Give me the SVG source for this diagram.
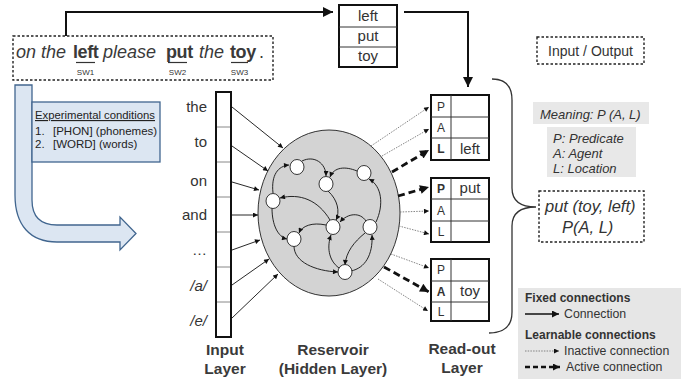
<svg xmlns="http://www.w3.org/2000/svg" width="681" height="381" viewBox="0 0 681 381">
<defs>
<style>
text{font-family:"Liberation Sans",Arial,sans-serif;fill:#333;}
.it{font-style:italic;}
.bd{font-weight:bold;}
.sent{font-size:18px;fill:#3a3a3a;}
.sb{font-weight:bold;letter-spacing:-0.4px;}
.dash{fill:none;stroke:#222;stroke-width:1.4;stroke-dasharray:2.5 2;}
.thin{fill:none;stroke:#111;stroke-width:0.9;}
.edge{fill:none;stroke:#111;stroke-width:0.9;}
.inact{fill:none;stroke:#777;stroke-width:0.9;stroke-dasharray:1.5 1.2;}
.act{fill:none;stroke:#111;stroke-width:2.8;stroke-dasharray:7 4;}
.fixed{fill:none;stroke:#111;stroke-width:2;}
.tbl{fill:#fff;stroke:#111;stroke-width:2;}
.grid{stroke:#333;stroke-width:1;}
.unit{fill:#fff;stroke:#222;stroke-width:0.9;}
.lbl{font-size:12px;text-anchor:middle;}
.val{font-size:15px;text-anchor:middle;}
.word{font-size:15px;text-anchor:end;}
.cap{font-size:15.5px;font-weight:bold;text-anchor:middle;fill:#3a3a3a;}
.cond{font-size:11.5px;fill:#222;}
</style>
<marker id="sm" viewBox="0 0 10 10" refX="10" refY="5" markerWidth="6" markerHeight="5" orient="auto" markerUnits="userSpaceOnUse"><path d="M0,0 L10,5 L0,10 z" fill="#111"/></marker>
<marker id="big" viewBox="0 0 10 10" refX="10" refY="5" markerWidth="11" markerHeight="10" orient="auto" markerUnits="userSpaceOnUse"><path d="M0,0 L10,5 L0,10 z" fill="#111"/></marker>
<marker id="actm" viewBox="0 0 10 10" refX="10" refY="5" markerWidth="10" markerHeight="9" orient="auto" markerUnits="userSpaceOnUse"><path d="M0,0 L10,5 L0,10 z" fill="#111"/></marker>
<marker id="leg" viewBox="0 0 10 10" refX="10" refY="5" markerWidth="8" markerHeight="7" orient="auto" markerUnits="userSpaceOnUse"><path d="M0,0 L10,5 L0,10 z" fill="#111"/></marker>
</defs>

<!-- sentence -->
<g id="sentence">
<rect x="13" y="36" width="260" height="44" class="dash"/>
<text x="16" y="58" class="sent it">on the</text>
<text x="73" y="58" class="sent sb">left</text>
<text x="103" y="58" class="sent it">please</text>
<text x="166" y="58" class="sent sb">put</text>
<text x="199" y="58" class="sent it">the</text>
<text x="230" y="58" class="sent sb">toy</text>
<text x="259" y="58" class="sent">.</text>
<line x1="76" y1="62.5" x2="95" y2="62.5" stroke="#333" stroke-width="1.2"/>
<line x1="168" y1="62.5" x2="187" y2="62.5" stroke="#333" stroke-width="1.2"/>
<line x1="231" y1="62.5" x2="248" y2="62.5" stroke="#333" stroke-width="1.2"/>
<text x="85.5" y="75" font-size="8" text-anchor="middle">SW1</text>
<text x="177.5" y="75" font-size="8" text-anchor="middle">SW2</text>
<text x="239.5" y="75" font-size="8" text-anchor="middle">SW3</text>
</g>

<!-- experimental conditions -->
<g id="conditions-arrow">
<path d="M15,85 L32,85 L32,200 Q32,225 57,225 L120,225 L120,217 L136,233.5 L120,250 L120,242 L57,242 C30,242 15,225 15,195 Z" fill="#dce6f2" stroke="#41668f" stroke-width="1.3"/>
</g>
<g id="conditions">
<rect x="32" y="102" width="128" height="60" fill="#dce6f2" stroke="#41668f" stroke-width="1.3"/>
<text x="35" y="119" class="cond" text-decoration="underline" textLength="120" lengthAdjust="spacingAndGlyphs">Experimental conditions</text>
<text x="35" y="135" class="cond">1.</text>
<text x="53" y="135" class="cond">[PHON] (phonemes)</text>
<text x="35" y="148" class="cond">2.</text>
<text x="53" y="148" class="cond">[WORD] (words)</text>
</g>

<!-- top word list -->
<g id="wordlist">
<rect x="339" y="5" width="58" height="62" class="tbl"/>
<line x1="339" y1="27" x2="397" y2="27" class="grid"/>
<line x1="339" y1="47" x2="397" y2="47" class="grid"/>
<text x="368" y="21" class="val">left</text>
<text x="368" y="41" class="val">put</text>
<text x="368" y="61" class="val">toy</text>
</g>

<!-- input layer -->
<g id="input-layer">
<rect x="216" y="92" width="15" height="245" fill="#fff" stroke="#111" stroke-width="2"/>
<g stroke="#888" stroke-width="1">
<line x1="217" y1="127" x2="230" y2="127"/>
<line x1="217" y1="162" x2="230" y2="162"/>
<line x1="217" y1="197" x2="230" y2="197"/>
<line x1="217" y1="232" x2="230" y2="232"/>
<line x1="217" y1="267" x2="230" y2="267"/>
<line x1="217" y1="302" x2="230" y2="302"/>
</g>
<text x="207" y="112" class="word">the</text>
<text x="207" y="147" class="word">to</text>
<text x="207" y="186" class="word">on</text>
<text x="207" y="220" class="word">and</text>
<text x="207" y="255" class="word">…</text>
<text x="207" y="291" class="word it">/a/</text>
<text x="207" y="326" class="word it">/e/</text>
<text x="225" y="355" class="cap">Input</text>
<text x="225" y="374" class="cap">Layer</text>
</g>

<!-- reservoir -->
<g id="reservoir">
<ellipse cx="329" cy="213" rx="71" ry="83" fill="#d3d3d3" stroke="#333" stroke-width="1"/>
<text x="333" y="355" class="cap">Reservoir</text>
<text x="333" y="374" class="cap">(Hidden Layer)</text>
</g>

<!-- read-out tables -->
<g id="readout-1">
<rect x="431" y="95" width="58" height="65" class="tbl"/>
<line x1="451" y1="95" x2="451" y2="160" class="grid"/>
<line x1="431" y1="117" x2="489" y2="117" class="grid"/>
<line x1="431" y1="138" x2="489" y2="138" class="grid"/>
<text x="441" y="111" class="lbl">P</text>
<text x="441" y="132" class="lbl">A</text>
<text x="441" y="153" class="lbl bd">L</text>
<text x="470" y="154" class="val">left</text>
</g>
<g id="readout-2">
<rect x="431" y="178" width="58" height="64" class="tbl"/>
<line x1="451" y1="178" x2="451" y2="242" class="grid"/>
<line x1="431" y1="199" x2="489" y2="199" class="grid"/>
<line x1="431" y1="221" x2="489" y2="221" class="grid"/>
<text x="441" y="193" class="lbl bd">P</text>
<text x="441" y="215" class="lbl">A</text>
<text x="441" y="236" class="lbl">L</text>
<text x="470" y="193" class="val">put</text>
</g>
<g id="readout-3">
<rect x="431" y="259" width="58" height="62" class="tbl"/>
<line x1="451" y1="259" x2="451" y2="321" class="grid"/>
<line x1="431" y1="281" x2="489" y2="281" class="grid"/>
<line x1="431" y1="302" x2="489" y2="302" class="grid"/>
<text x="441" y="274" class="lbl">P</text>
<text x="441" y="296" class="lbl bd">A</text>
<text x="441" y="316" class="lbl">L</text>
<text x="470" y="296" class="val">toy</text>
<text x="462" y="354" class="cap">Read-out</text>
<text x="462" y="373" class="cap">Layer</text>
</g>

<!-- right side -->
<g id="brace">
<path d="M492,79 Q512,79 512,100 L512,188 Q512,207 536,207 Q512,207 512,226 L512,312 Q512,333 489,333" fill="none" stroke="#333" stroke-width="1.3"/>
</g>
<g id="io-label">
<rect x="537" y="37" width="107" height="27" class="dash"/>
<text x="590.5" y="56" font-size="14" text-anchor="middle">Input / Output</text>
</g>
<g id="meaning">
<rect x="533" y="102" width="116" height="22" fill="#e8e8e8"/>
<text x="540" y="119" font-size="13" class="it">Meaning: P (A, L)</text>
</g>
<g id="roles">
<rect x="547" y="127" width="89" height="50" fill="#e8e8e8"/>
<text x="553" y="143" font-size="13" class="it">P: Predicate</text>
<text x="553" y="158" font-size="13" class="it">A: Agent</text>
<text x="553" y="173" font-size="13" class="it">L: Location</text>
</g>
<g id="output">
<rect x="539" y="191" width="105" height="51" class="dash"/>
<text x="545" y="212" font-size="16.5" class="it">put (toy, left)</text>
<text x="562" y="233" font-size="16.5" class="it">P(A, L)</text>
</g>

<!-- legend -->
<g id="legend">
<rect x="518" y="288" width="163" height="91" fill="#e6e6e6"/>
<text x="525" y="302" font-size="12" class="bd">Fixed connections</text>
<line x1="525" y1="314" x2="559" y2="314" stroke="#111" stroke-width="1.6" marker-end="url(#leg)"/>
<text x="564" y="318" font-size="12.3">Connection</text>
<text x="525" y="339" font-size="12" class="bd">Learnable connections</text>
<line x1="525" y1="351" x2="559" y2="351" class="inact" marker-end="url(#sm)"/>
<text x="564" y="355" font-size="12.3">Inactive connection</text>
<line x1="525" y1="367" x2="560" y2="367" stroke="#111" stroke-width="2.4" stroke-dasharray="5 3" marker-end="url(#leg)"/>
<text x="566" y="371" font-size="12.3">Active connection</text>
</g>

<!-- connectors -->
<g id="connectors">
<path d="M66,36 L66,12 L333,12" class="fixed" marker-end="url(#big)"/>
<path d="M404,12 L468,12 L468,87" class="fixed" marker-end="url(#big)"/>
<!-- input to reservoir -->
<line x1="232" y1="107" x2="283" y2="148" class="thin" marker-end="url(#sm)"/>
<line x1="232" y1="146" x2="268" y2="171" class="thin" marker-end="url(#sm)"/>
<line x1="232" y1="182" x2="259" y2="190" class="thin" marker-end="url(#sm)"/>
<line x1="232" y1="215" x2="258" y2="215" class="thin" marker-end="url(#sm)"/>
<line x1="232" y1="250" x2="260" y2="240" class="thin" marker-end="url(#sm)"/>
<line x1="232" y1="285" x2="269" y2="259" class="thin" marker-end="url(#sm)"/>
<line x1="232" y1="318" x2="278" y2="274" class="thin" marker-end="url(#sm)"/>
<!-- recurrent edges -->
<path d="M273,193 C271,175 278,166 289,165" class="edge" marker-end="url(#sm)"/>
<path d="M302,161 C314,155 326,163 326,176" class="edge" marker-end="url(#sm)"/>
<path d="M357,171 C345,166 334,167 330,177" class="edge" marker-end="url(#sm)"/>
<path d="M328,191 C338,200 340,212 336,220" class="edge" marker-end="url(#sm)"/>
<path d="M330,220 C318,200 300,193 280,198" class="edge" marker-end="url(#sm)"/>
<path d="M326,225 C312,222 302,226 299,233" class="edge" marker-end="url(#sm)"/>
<path d="M272,208 C272,225 278,237 287,239" class="edge" marker-end="url(#sm)"/>
<path d="M366,221 C360,212 348,213 340,222" class="edge" marker-end="url(#sm)"/>
<path d="M376,222 C384,205 382,186 369,179" class="edge" marker-end="url(#sm)"/>
<path d="M351,271 C365,268 373,255 372,235" class="edge" marker-end="url(#sm)"/>
<path d="M365,233 C354,242 346,252 345,265" class="edge" marker-end="url(#sm)"/>
<path d="M339,268 C328,260 327,246 331,235" class="edge" marker-end="url(#sm)"/>
<path d="M294,246 C294,262 315,271 338,272" class="edge" marker-end="url(#sm)"/>
<!-- reservoir to read-out -->
<line x1="371" y1="146" x2="429" y2="107" class="inact" marker-end="url(#sm)"/>
<line x1="382" y1="156" x2="429" y2="129" class="inact" marker-end="url(#sm)"/>
<line x1="392" y1="172" x2="429" y2="150" class="act" marker-end="url(#actm)"/>
<line x1="398" y1="196" x2="429" y2="187" class="act" marker-end="url(#actm)"/>
<line x1="400" y1="212" x2="429" y2="211" class="inact" marker-end="url(#sm)"/>
<line x1="399" y1="226" x2="429" y2="234" class="inact" marker-end="url(#sm)"/>
<line x1="391" y1="254" x2="429" y2="268" class="inact" marker-end="url(#sm)"/>
<line x1="384" y1="267" x2="429" y2="292" class="act" marker-end="url(#actm)"/>
<line x1="378" y1="279" x2="428" y2="311" class="inact" marker-end="url(#sm)"/>
</g>

<!-- reservoir units -->
<g id="unit-1"><ellipse cx="297" cy="167" rx="7" ry="7.5" class="unit"/></g>
<g id="unit-2"><ellipse cx="326" cy="184" rx="7" ry="7.5" class="unit"/></g>
<g id="unit-3"><ellipse cx="364" cy="173" rx="7" ry="7.5" class="unit"/></g>
<g id="unit-4"><ellipse cx="273" cy="201" rx="7" ry="7.5" class="unit"/></g>
<g id="unit-5"><ellipse cx="333" cy="227" rx="7" ry="7.5" class="unit"/></g>
<g id="unit-6"><ellipse cx="370" cy="227" rx="7" ry="7.5" class="unit"/></g>
<g id="unit-7"><ellipse cx="294" cy="239" rx="7" ry="7.5" class="unit"/></g>
<g id="unit-8"><ellipse cx="345" cy="272" rx="7" ry="7.5" class="unit"/></g>
</svg>
